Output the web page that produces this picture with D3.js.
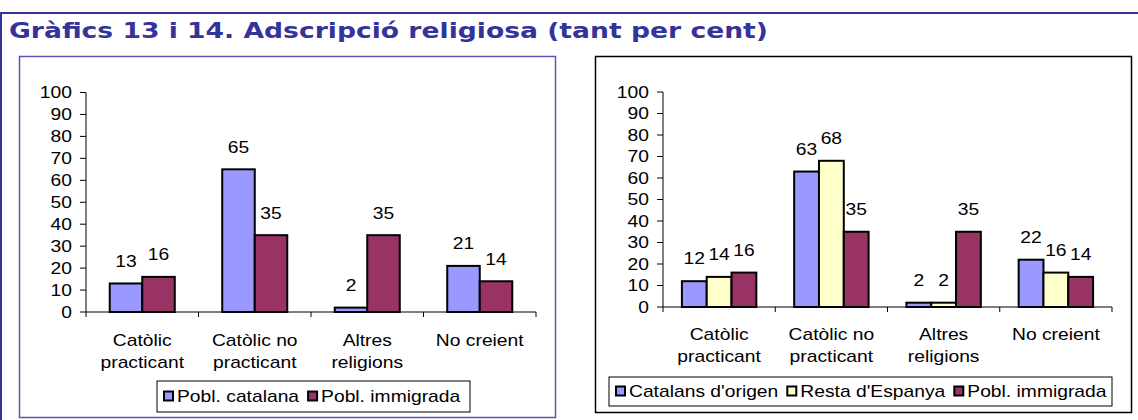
<!DOCTYPE html>
<html>
<head>
<meta charset="utf-8">
<script src="https://cdn.jsdelivr.net/npm/d3@7"></script>
<style>
  body { margin: 0; background: #fff; }
  text { font-family: 'Liberation Sans', Arial, sans-serif; fill: #000; }
</style>
</head>
<body>
<script>
// data
var categories = [['Catòlic', 'practicant'], ['Catòlic no', 'practicant'], ['Altres', 'religions'], ['No creient']];
var leftSeries = ['Pobl. catalana', 'Pobl. immigrada'];
var leftValues = [[13, 65, 2, 21], [16, 35, 35, 14]];
var rightSeries = ["Catalans d'origen", "Resta d'Espanya", 'Pobl. immigrada'];
var rightValues = [[12, 63, 2, 22], [14, 68, 2, 16], [16, 35, 35, 14]];
var yTicks = [0, 10, 20, 30, 40, 50, 60, 70, 80, 90, 100];
var title = 'Gràfics 13 i 14. Adscripció religiosa (tant per cent)';

var sx = 1.22; // text looks stretched sideways in the original

var svg = d3.select('body')
  .append('svg')
  .attr('width', 1138)
  .attr('height', 420);

// outer frame
svg.append('path')
  .attr('d', 'M1,420 L1,13 L1138,13')
  .attr('fill', 'none')
  .attr('stroke', '#333399')
  .attr('stroke-width', 2);

svg.append('text')
  .attr('x', 9)
  .attr('y', 38)
  .attr('textLength', 759)
  .attr('lengthAdjust', 'spacingAndGlyphs')
  .style('font-family', "'DejaVu Sans', Verdana, sans-serif")
  .style('font-weight', 'bold')
  .style('font-size', '22px')
  .style('fill', '#333399')
  .text(title);

function stext(g, x, y, s, anchor) {
  return g.append('text')
    .attr('transform', 'translate(' + x + ',' + y + ') scale(' + sx + ',1)')
    .attr('text-anchor', anchor || 'middle')
    .style('font-family', "'Liberation Sans', Arial, sans-serif")
    .style('font-size', '15.8px')
    .text(s);
}

function chart(opt) {
  var g = svg.append('g');

  g.append('rect')
    .attr('x', opt.box[0]).attr('y', opt.box[1])
    .attr('width', opt.box[2]).attr('height', opt.box[3])
    .attr('fill', '#fff')
    .attr('stroke', opt.boxColor)
    .attr('stroke-width', 1.5);

  var y = d3.scaleLinear().domain([0, 100]).range(opt.yRange);
  var x0 = d3.scaleBand().domain(d3.range(categories.length)).range(opt.xRange);
  var gw = x0.bandwidth() * opt.groupFrac;
  var x1 = d3.scaleBand().domain(d3.range(opt.series.length)).range([0, gw]);

  // y axis
  g.append('line')
    .attr('x1', opt.xRange[0]).attr('x2', opt.xRange[0])
    .attr('y1', y(0)).attr('y2', y(100))
    .attr('stroke', '#000');
  yTicks.forEach(function (t) {
    g.append('line')
      .attr('x1', opt.xRange[0] - 6).attr('x2', opt.xRange[0])
      .attr('y1', y(t)).attr('y2', y(t))
      .attr('stroke', '#000');
    stext(g, opt.xRange[0] - 14, y(t) + 5.5, t, 'end');
  });

  // x axis
  g.append('line')
    .attr('x1', opt.xRange[0]).attr('x2', opt.xRange[1])
    .attr('y1', y(0)).attr('y2', y(0))
    .attr('stroke', '#000');
  d3.range(categories.length + 1).forEach(function (i) {
    var xx = opt.xRange[0] + i * x0.step();
    g.append('line')
      .attr('x1', xx).attr('x2', xx)
      .attr('y1', y(0)).attr('y2', y(0) + 5)
      .attr('stroke', '#000');
  });

  categories.forEach(function (lines, i) {
    lines.forEach(function (s, j) {
      stext(g, x0(i) + x0.bandwidth() / 2, opt.catY + j * 22, s);
    });
  });

  // bars
  opt.series.forEach(function (name, si) {
    var off = (x0.bandwidth() - gw) / 2 + x1(si);
    g.append('g')
      .selectAll('rect')
      .data(opt.values[si])
      .enter()
      .append('rect')
      .attr('x', (d, i) => x0(i) + off)
      .attr('y', (d) => y(d))
      .attr('width', x1.bandwidth())
      .attr('height', (d) => y(0) - y(d))
      .attr('fill', opt.colors[si])
      .attr('stroke', '#000')
      .attr('stroke-width', 2);
    opt.values[si].forEach(function (d, i) {
      stext(g, x0(i) + off + x1.bandwidth() / 2, y(d) - opt.labelGap, d);
    });
  });

  // legend
  var lg = opt.legend;
  g.append('rect')
    .attr('x', lg[0]).attr('y', lg[1])
    .attr('width', lg[2]).attr('height', lg[3])
    .attr('fill', '#fff')
    .attr('stroke', '#000');
  var lx = lg[0] + 7;
  var cy = lg[1] + lg[3] / 2;
  opt.series.forEach(function (name, si) {
    g.append('rect')
      .attr('x', lx).attr('y', cy - 5)
      .attr('width', 9).attr('height', 9)
      .attr('fill', opt.colors[si])
      .attr('stroke', '#000')
      .attr('stroke-width', 2);
    var t = stext(g, lx + 13, cy + 5.5, name, 'start');
    lx += 13 + t.node().getComputedTextLength() * sx + 9;
  });
}

chart({
  box: [19.5, 56.5, 536, 361],
  boxColor: '#5555bb',
  xRange: [86, 536],
  yRange: [312, 92.5],
  groupFrac: 0.578,
  series: leftSeries,
  values: leftValues,
  colors: ['#9999ff', '#993366'],
  labelGap: 16.5,
  catY: 346,
  legend: [157, 381, 313, 31]
});

chart({
  box: [595.5, 56.5, 536, 356],
  boxColor: '#000',
  xRange: [663, 1112],
  yRange: [307, 92],
  groupFrac: 0.663,
  series: rightSeries,
  values: rightValues,
  colors: ['#9999ff', '#ffffcc', '#993366'],
  labelGap: 17,
  catY: 340,
  legend: [609, 377, 503, 29]
});
</script>
</body>
</html>
